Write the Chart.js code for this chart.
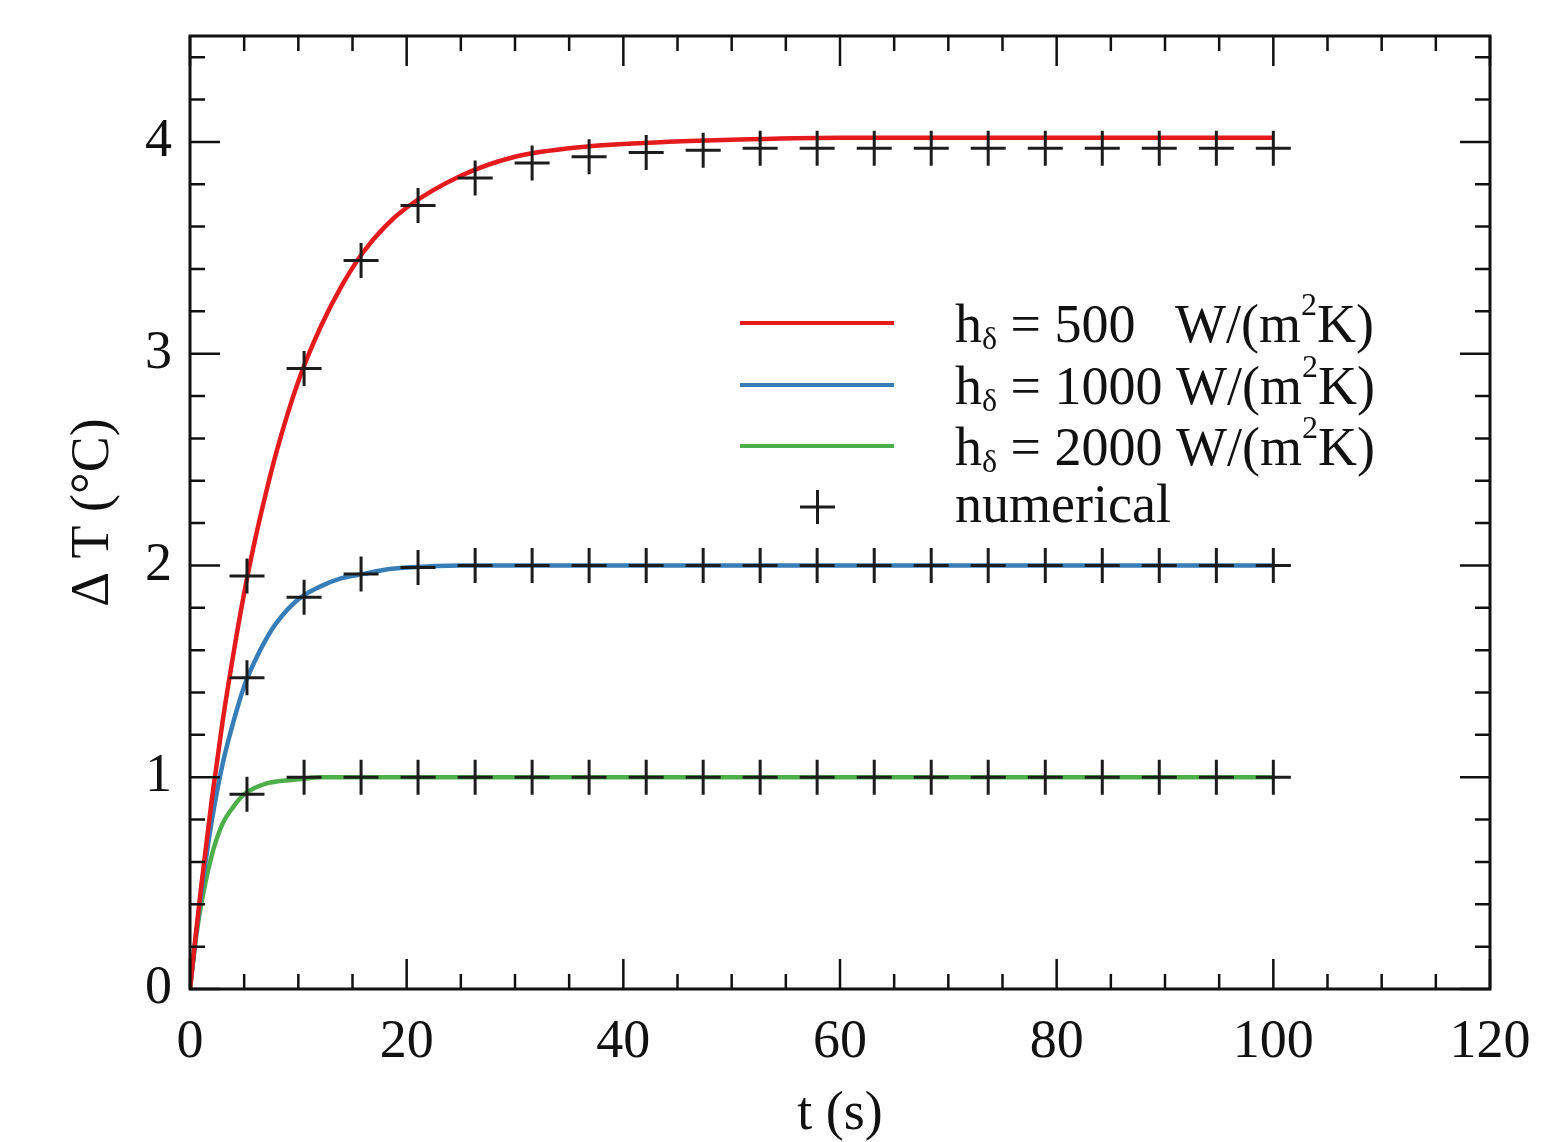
<!DOCTYPE html>
<html lang="en">
  <head>
    <meta charset="UTF-8" />
    <title>Delta T vs time</title>
    <script src="https://cdn.jsdelivr.net/npm/chart.js@4.4.1/dist/chart.umd.min.js"></script>
    <style>
      html, body { margin: 0; padding: 0; background: #fff; }
      #wrap { width: 1560px; height: 1142px; }
    </style>
  </head>
  <body>
    <div id="wrap"><canvas id="chart" width="1560" height="1142"></canvas></div>

    <script>
      // analytic curves
      const tCurve = [0, 0.5, 1, 2, 3, 4, 5, 6, 7, 8, 10, 12, 14, 16, 18, 20, 25, 30, 35, 40, 50, 60, 80, 100];
      const red500 = [0, 0.24, 0.47, 0.89, 1.26, 1.58, 1.87, 2.12, 2.34, 2.54, 2.87, 3.12, 3.32, 3.48, 3.6, 3.69, 3.84, 3.93, 3.97, 3.99, 4.01, 4.02, 4.02, 4.02];
      const blue1000 = [0, 0.235, 0.44, 0.79, 1.06, 1.26, 1.43, 1.55, 1.65, 1.73, 1.84, 1.9, 1.94, 1.96, 1.98, 1.99, 2.0, 2.0, 2.0, 2.0, 2.0, 2.0, 2.0, 2.0];
      const green2000 = [0, 0.22, 0.39, 0.63, 0.78, 0.86, 0.92, 0.95, 0.97, 0.98, 0.99, 1.0, 1.0, 1.0, 1.0, 1.0, 1.0, 1.0, 1.0, 1.0, 1.0, 1.0, 1.0, 1.0];

      // numerical results (+ markers)
      const tNum = [5.26, 10.53, 15.79, 21.05, 26.32, 31.58, 36.84, 42.11, 47.37, 52.63, 57.89, 63.16, 68.42, 73.68, 78.95, 84.21, 89.47, 94.74, 100];
      const numRed = [1.95, 2.93, 3.44, 3.7, 3.83, 3.9, 3.93, 3.95, 3.96, 3.97, 3.97, 3.97, 3.97, 3.97, 3.97, 3.97, 3.97, 3.97, 3.97];
      const numBlue = [1.47, 1.85, 1.96, 1.99, 2.0, 2.0, 2.0, 2.0, 2.0, 2.0, 2.0, 2.0, 2.0, 2.0, 2.0, 2.0, 2.0, 2.0, 2.0];
      const numGreen = [0.92, 1.0, 1.0, 1.0, 1.0, 1.0, 1.0, 1.0, 1.0, 1.0, 1.0, 1.0, 1.0, 1.0, 1.0, 1.0, 1.0, 1.0, 1.0];

      const xTicks = [0, 20, 40, 60, 80, 100, 120];
      const yTicks = [0, 1, 2, 3, 4];
      const hValues = ["500", "1000", "2000"];

      const colors = ["#e41a1c", "#377eb8", "#4daf4a"];
      const serif = "'Liberation Serif', 'DejaVu Serif', serif";

      const toPts = (xs, ys) => xs.map((x, i) => ({ x, y: ys[i] }));

      const curveSet = (ys, color) => ({
        data: toPts(tCurve, ys),
        showLine: true,
        borderColor: color,
        borderWidth: 4.5,
        pointRadius: 0,
        cubicInterpolationMode: "monotone",
        order: 1,
      });

      const markerSet = (ys) => ({
        data: toPts(tNum, ys),
        showLine: false,
        pointStyle: "cross",
        pointRadius: 17.5,
        borderColor: "#1c1c1c",
        borderWidth: 3,
        order: 0,
      });

      // frame + inward ticks on all four sides, and the legend
      const framePlugin = {
        id: "frame",
        afterDraw(chart) {
          const { ctx, chartArea: a, scales } = chart;
          const xs = scales.x, ys = scales.y;
          ctx.save();
          ctx.strokeStyle = "#111";
          ctx.lineCap = "butt";
          ctx.lineWidth = 2.5;
          ctx.beginPath();
          for (let v = 0; v <= 120; v += 5) {
            const len = v % 20 === 0 ? 30 : 15;
            const px = xs.getPixelForValue(v);
            ctx.moveTo(px, a.bottom); ctx.lineTo(px, a.bottom - len);
            ctx.moveTo(px, a.top); ctx.lineTo(px, a.top + len);
          }
          for (let k = 0; k <= 22; k++) {
            const v = k / 5;
            const len = k % 5 === 0 ? 30 : 15;
            const py = ys.getPixelForValue(v);
            ctx.moveTo(a.left, py); ctx.lineTo(a.left + len, py);
            ctx.moveTo(a.right, py); ctx.lineTo(a.right - len, py);
          }
          ctx.stroke();
          ctx.lineWidth = 3;
          ctx.strokeRect(a.left, a.top, a.right - a.left, a.bottom - a.top);

          // legend
          const lx0 = 740, lx1 = 894, tx = 955;
          const lineY = [323, 385, 446];
          const baseY = [342, 404, 465];
          const big = "54px " + serif, small = "32px " + serif;
          ctx.fillStyle = "#111";
          ctx.textBaseline = "alphabetic";
          ctx.textAlign = "left";
          hValues.forEach((h, i) => {
            ctx.strokeStyle = colors[i];
            ctx.lineWidth = 4;
            ctx.beginPath();
            ctx.moveTo(lx0, lineY[i]); ctx.lineTo(lx1, lineY[i]);
            ctx.stroke();

            let x = tx;
            const b = baseY[i];
            ctx.font = big;
            ctx.fillText("h", x, b);
            x += ctx.measureText("h").width;
            ctx.font = small;
            ctx.fillText("δ", x, b + 7);
            x += ctx.measureText("δ").width;
            ctx.font = big;
            const mid = " = " + h + " ";
            ctx.fillText(mid, x, b);
            x += ctx.measureText(mid).width;
            if (i === 0) x += 26;
            ctx.fillText("W/(m", x, b);
            x += ctx.measureText("W/(m").width;
            ctx.font = small;
            ctx.fillText("2", x, b - 27);
            x += ctx.measureText("2").width;
            ctx.font = big;
            ctx.fillText("K)", x, b);
          });
          // numerical entry
          ctx.strokeStyle = "#1c1c1c";
          ctx.lineWidth = 3;
          ctx.beginPath();
          ctx.moveTo(800, 507); ctx.lineTo(835, 507);
          ctx.moveTo(817.5, 490); ctx.lineTo(817.5, 524);
          ctx.stroke();
          ctx.font = big;
          ctx.fillText("numerical", tx, 522);
          ctx.restore();
        },
      };

      new Chart(document.getElementById("chart"), {
        type: "scatter",
        data: {
          datasets: [
            curveSet(red500, colors[0]),
            curveSet(blue1000, colors[1]),
            curveSet(green2000, colors[2]),
            markerSet(numRed),
            markerSet(numBlue),
            markerSet(numGreen),
          ],
        },
        options: {
          responsive: false,
          animation: false,
          events: [],
          layout: { padding: { top: 36, right: 70, left: 0, bottom: 0 } },
          plugins: { legend: { display: false }, tooltip: { enabled: false } },
          scales: {
            x: {
              type: "linear",
              min: 0,
              max: 120,
              afterBuildTicks: (s) => { s.ticks = xTicks.map((v) => ({ value: v })); },
              ticks: { font: { family: serif, size: 54 }, color: "#111", padding: 21, maxRotation: 0 },
              grid: { display: false, drawTicks: false },
              border: { display: false },
              title: { display: true, text: "t (s)", font: { family: serif, size: 54, lineHeight: 1.0 }, color: "#111", padding: { top: 0, bottom: 0 } },
              afterFit: (s) => { s.height = 153; s.paddingLeft = 0; s.paddingRight = 0; },
            },
            y: {
              type: "linear",
              min: 0,
              max: 4.5,
              afterBuildTicks: (s) => { s.ticks = yTicks.map((v) => ({ value: v })); },
              ticks: { font: { family: serif, size: 54 }, color: "#111", padding: 18 },
              grid: { display: false, drawTicks: false },
              border: { display: false },
              title: { display: true, text: "Δ T (°C)", font: { family: serif, size: 54 }, color: "#111", padding: { top: 61, bottom: 0 } },
              afterFit: (s) => { s.width = 190; s.paddingTop = 0; s.paddingBottom = 0; },
            },
          },
        },
        plugins: [framePlugin],
      });
    </script>
  </body>
</html>
